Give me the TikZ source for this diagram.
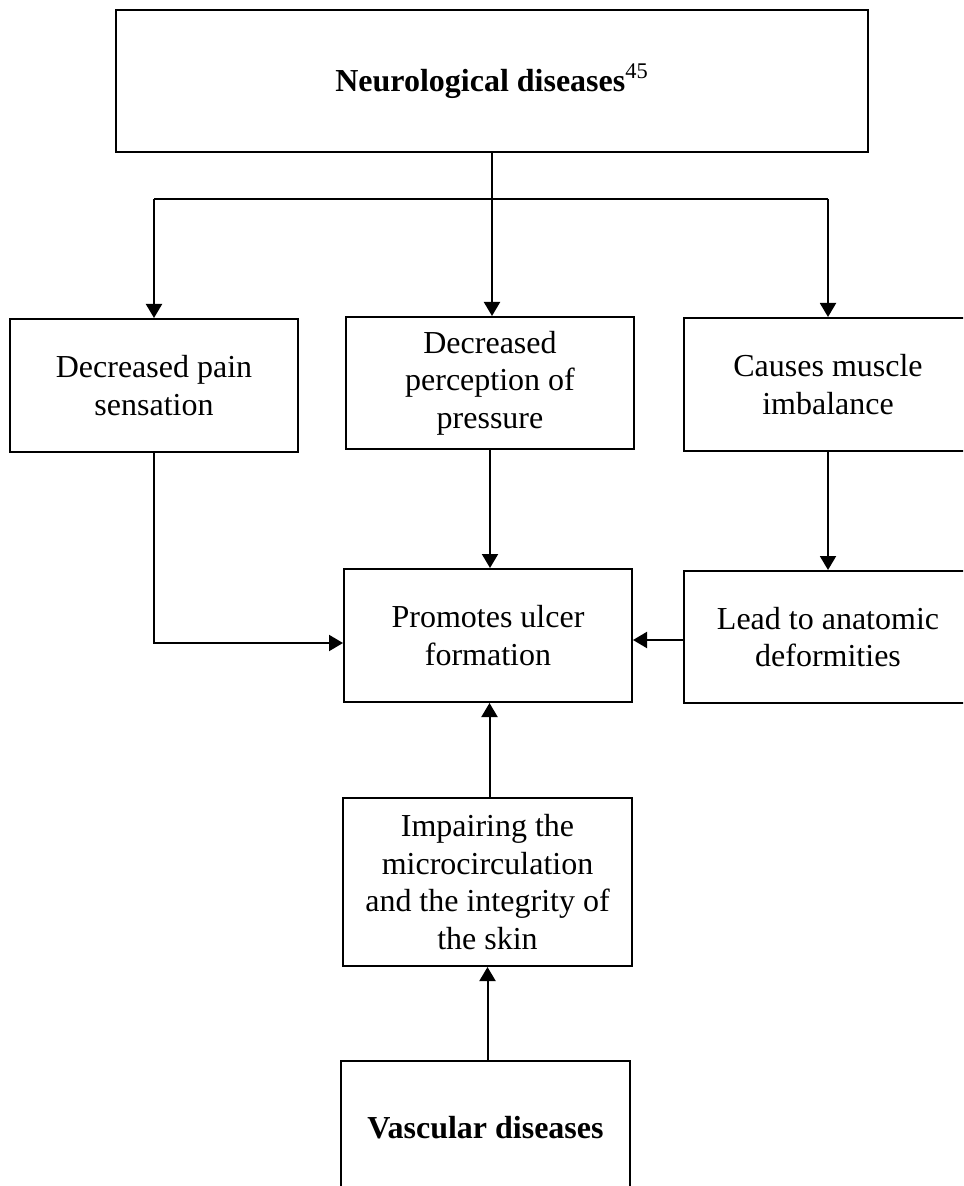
\documentclass[tikz,border=0pt]{standalone}
\usepackage{fontspec}
\setmainfont{Liberation Serif}
\usetikzlibrary{arrows.meta}
\begin{document}
\begin{tikzpicture}[x=0.5pt,y=-0.5pt,
  box/.style={draw,line width=1pt,inner sep=0pt,align=center,
    font=\fontsize{16}{18.7}\selectfont},
  conn/.style={line width=1pt},
  arr/.style={line width=1pt,-{Triangle[length=7pt,width=8pt]}}]
\useasboundingbox (0,0) rectangle (963,1186);
\clip (0,0) rectangle (963,1186);
\node[box,minimum width=376pt,minimum height=71pt] (top) at (492,81) {\textbf{Neurological diseases}\textsuperscript{45}};
\node[box,minimum width=144pt,minimum height=66.5pt] (left) at (154,385.5) {Decreased pain\\sensation};
\node[box,minimum width=144pt,minimum height=66pt] (mid) at (490,383) {Decreased\\perception of\\pressure};
\node[box,minimum width=144pt,minimum height=66.5pt] (right) at (828,384.5) {Causes muscle\\imbalance};
\node[box,minimum width=144pt,minimum height=66.5pt] (prom) at (488,635.5) {Promotes ulcer\\formation};
\node[box,minimum width=144pt,minimum height=66pt] (lead) at (828,637) {Lead to anatomic\\deformities};
\node[box,minimum width=144.5pt,minimum height=84pt] (imp) at (487.5,882) {Impairing the\\microcirculation\\and the integrity of\\the skin};
\node[box,minimum width=144.5pt,minimum height=67pt] (vasc) at (485.5,1128) {\textbf{Vascular diseases}};
\coordinate (br) at (492,199);
\coordinate (lin) at (344,643);
\coordinate (rin) at (684,640);
\draw[arr] (top.south) -- (top.south |- mid.north);
\draw[conn] (left.north |- br) -- (right.north |- br);
\draw[arr] (left.north |- br) -- (left.north);
\draw[arr] (right.north |- br) -- (right.north);
\draw[arr] (left.south) -- (left.south |- lin) -- (prom.west |- lin);
\draw[arr] (mid.south) -- (mid.south |- prom.north);
\draw[arr] (right.south) -- (lead.north);
\draw[arr] (lead.west |- rin) -- (prom.east |- rin);
\draw[arr] ([xshift=1pt]imp.north) -- ([xshift=1pt]imp.north |- prom.south);
\draw[arr] (vasc.north -| imp.south) -- (imp.south);
\end{tikzpicture}
\end{document}
